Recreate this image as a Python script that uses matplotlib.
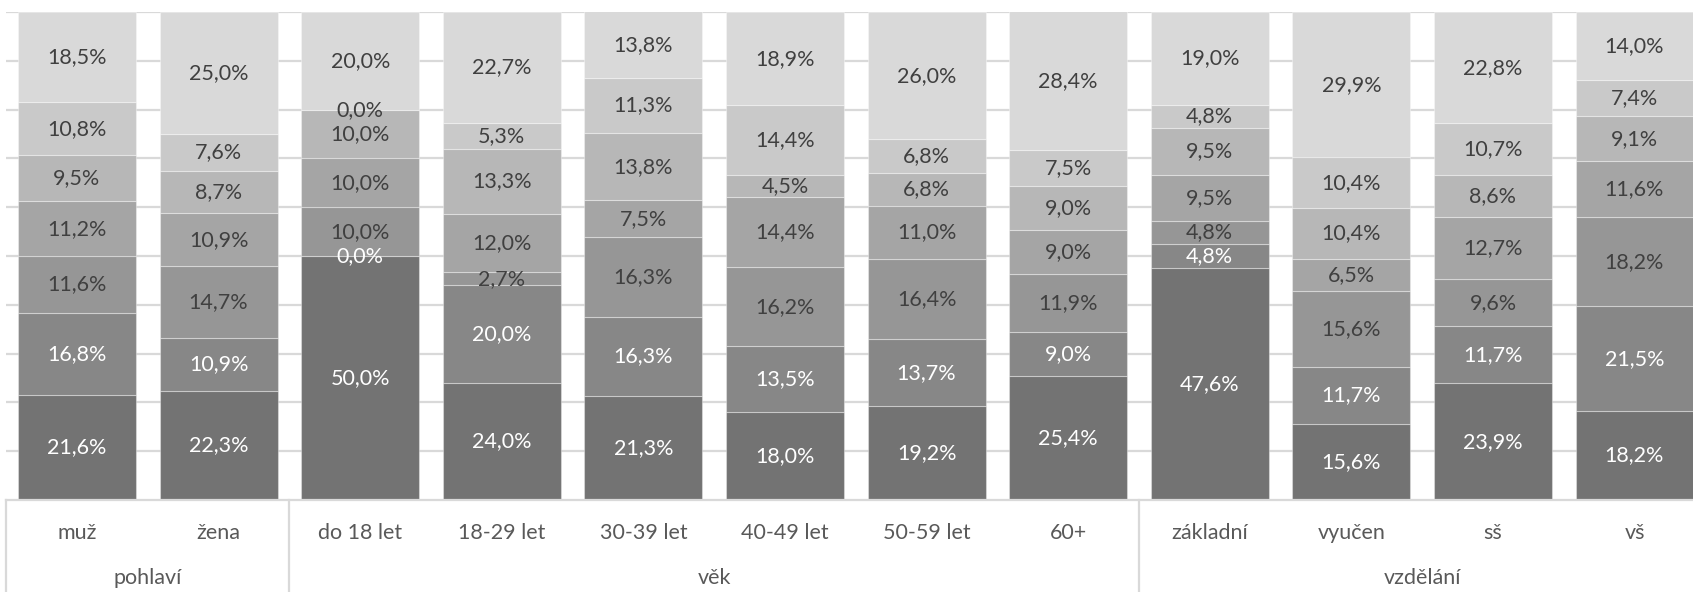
import numpy as np
from matplotlib import pyplot as plt


#------------------------------------------------------------------------------
#	Data
#------------------------------------------------------------------------------
categories = ['muž', 'žena', 'do 18 let', '18-29 let', '30-39 let', '40-49 let',
	'50-59 let', '60+', 'základní', 'vyučen', 'sš', 'vš']
groups = ['pohlaví', 'věk', 'vzdělání']
group_sizes = [2, 6, 4]

# stacked segments from bottom to top (percent)
seg1 = [21.6, 22.3, 50.0, 24.0, 21.3, 18.0, 19.2, 25.4, 47.6, 15.6, 23.9, 18.2]
seg2 = [16.8, 10.9, 0.0, 20.0, 16.3, 13.5, 13.7, 9.0, 4.8, 11.7, 11.7, 21.5]
seg3 = [11.6, 14.7, 10.0, 2.7, 16.3, 16.2, 16.4, 11.9, 4.8, 15.6, 9.6, 18.2]
seg4 = [11.2, 10.9, 10.0, 12.0, 7.5, 14.4, 11.0, 9.0, 9.5, 6.5, 12.7, 11.6]
seg5 = [9.5, 8.7, 10.0, 13.3, 13.8, 4.5, 6.8, 9.0, 9.5, 10.4, 8.6, 9.1]
seg6 = [10.8, 7.6, 0.0, 5.3, 11.3, 14.4, 6.8, 7.5, 4.8, 10.4, 10.7, 7.4]
seg7 = [18.5, 25.0, 20.0, 22.7, 13.8, 18.9, 26.0, 28.4, 19.0, 29.9, 22.8, 14.0]
segments = [seg1, seg2, seg3, seg4, seg5, seg6, seg7]

colors = ['#737373', '#878787', '#969696', '#a5a5a5', '#b7b7b7', '#c9c9c9', '#d9d9d9']
label_colors = ['white', 'white', '#404040', '#404040', '#404040', '#404040', '#404040']


#------------------------------------------------------------------------------
#	Figure
#------------------------------------------------------------------------------
plt.rcParams['font.family'] = ['Lato', 'DejaVu Sans']
W, H = 1693, 592
fig = plt.figure(figsize=(W / 100, H / 100), dpi=100)

# plot area in pixels
left_px, top_px, bottom_px = 6.2, 12, 500
slot_px = 141.6
ax = fig.add_axes([left_px / W, (H - bottom_px) / H, 1 - left_px / W,
	(bottom_px - top_px) / H])

x = np.arange(len(categories))
ax.set_xlim(-0.5, -0.5 + (W - left_px) / slot_px)
ax.set_ylim(0, 100)

# gridlines
for g in np.arange(10, 101, 10):
	ax.axhline(g, color='#d9d9d9', lw=1.6, zorder=0)

bottom = np.zeros(len(categories))
for vals, c, lc in zip(segments, colors, label_colors):
	vals = np.array(vals)
	bars = ax.bar(x, vals, 0.833, bottom=bottom, color=c,
		edgecolor=(1, 1, 1, 0.35), linewidth=0.8, zorder=2)
	labels = [('%.1f' % v).replace('.', ',') + '%' for v in vals]
	ax.bar_label(bars, labels=labels, label_type='center', color=lc,
		fontsize=15.5, zorder=3)
	bottom += vals

for s in ax.spines.values():
	s.set_visible(False)
ax.set_xticks([])
ax.set_yticks([])

# category axis
axis_col = '#d9d9d9'
y_bot = -(H - bottom_px) / (bottom_px - top_px) * 100
ax.plot([-0.5, 20], [0, 0], color=axis_col, lw=1.6, clip_on=False, zorder=4)
edges = np.concatenate([[0], np.cumsum(group_sizes)]) - 0.5
for e in edges:
	ax.plot([e, e], [0, y_bot], color=axis_col, lw=1.6, clip_on=False)

y_lab1 = -(533 - bottom_px) / (bottom_px - top_px) * 100
y_lab2 = -(578 - bottom_px) / (bottom_px - top_px) * 100
for xi, cat in zip(x, categories):
	ax.text(xi, y_lab1, cat, ha='center', va='center', fontsize=15.5,
		color='#595959', clip_on=False)
for i, grp in enumerate(groups):
	ax.text((edges[i] + edges[i + 1]) / 2, y_lab2, grp, ha='center',
		va='center', fontsize=15.5, color='#595959', clip_on=False)

plt.savefig('out.png', dpi=100)
